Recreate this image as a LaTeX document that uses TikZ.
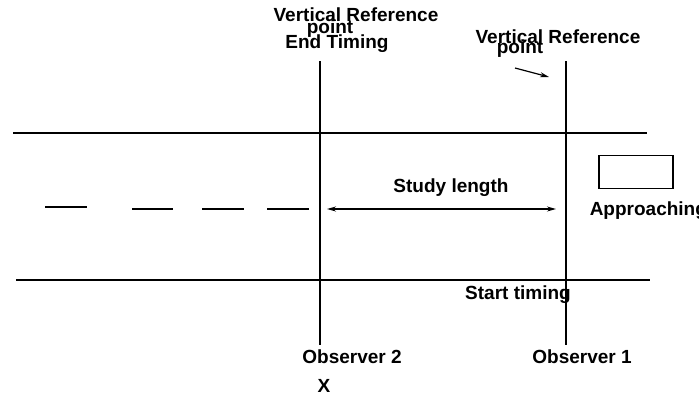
\documentclass[tikz,border=0pt]{standalone}
\usepackage{fontspec}
\setmainfont{Liberation Sans}
\usetikzlibrary{arrows.meta}
\begin{document}
\begin{tikzpicture}[x=1pt,y=-1pt,
  line width=1.5pt,
  lbl/.style={font=\fontsize{19}{22}\selectfont\bfseries, anchor=base, inner sep=0pt},
  arr/.style={-{Stealth[length=9pt,width=5pt]}, line width=1.2pt},
  dbl/.style={{Stealth[length=9pt,width=5pt]}-{Stealth[length=9pt,width=5pt]}, line width=1.2pt}]
\useasboundingbox (0,0) rectangle (699,394);
\clip (0,0) rectangle (699,394);

% road edges
\coordinate (roadTL) at (13,133);
\coordinate (roadTR) at (647,133);
\coordinate (roadBL) at (16,280);
\coordinate (roadBR) at (650,280);
\draw (roadTL) -- (roadTR);
\draw (roadBL) -- (roadBR);

% centre-line dashes
\coordinate (d1a) at (45,207);  \coordinate (d1b) at (87,207);
\coordinate (d2a) at (132,209); \coordinate (d2b) at (173,209);
\coordinate (d3a) at (202,209); \coordinate (d3b) at (244,209);
\coordinate (d4a) at (267,209); \coordinate (d4b) at (309,209);
\draw (d1a) -- (d1b);
\draw (d2a) -- (d2b);
\draw (d3a) -- (d3b);
\draw (d4a) -- (d4b);

% vertical reference lines
\coordinate (vLtop) at (320,61);  \coordinate (vLbot) at (320,345);
\coordinate (vRtop) at (566,61);  \coordinate (vRbot) at (566,345);
\draw (vLtop) -- (vLbot);
\draw (vRtop) -- (vRbot);

% study length arrow
\coordinate (sLa) at (327,209);
\coordinate (sLb) at (556,209);
\draw[dbl] (sLa) -- (sLb);

% approaching vehicle
\node[draw, line width=1.3pt, minimum width=74pt, minimum height=33pt, inner sep=0pt] (car) at (636,172) {};

% labels
\node[lbl] (vrL) at (356,21) {Vertical Reference};
\node[lbl] (ptL) at (330,33) {point};
\node[lbl] (endT) at (337,48) {End Timing};
\node[lbl] (vrR) at (558,43) {Vertical Reference};
\node[lbl] (ptR) at (520,53) {point};
\node[lbl] (study) at (451,192) {Study length};
\node[lbl, anchor=base west] (appr) at (589,215) {Approaching};
\node[lbl] (start) at (518,299) {Start timing};
\node[lbl] (obs2) at (352,363) {Observer 2};
\node[lbl] (obs1) at (582,363) {Observer 1};
\node[lbl] (xmark) at (324,392) {X};

% pointer to the right reference line
\coordinate (pA) at (515,68);
\coordinate (pB) at (549,77);
\draw[arr] (pA) -- (pB);
\end{tikzpicture}
\end{document}
